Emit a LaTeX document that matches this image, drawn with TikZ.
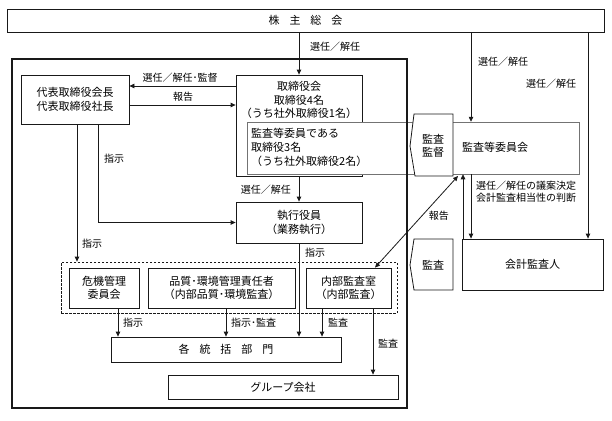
\documentclass[tikz,border=0pt]{standalone}
\usepackage{fontspec}
\setmainfont{Noto Sans CJK JP}
\usetikzlibrary{arrows.meta}
\newcommand\bxfont{\fontsize{11}{13.5}\selectfont}
\newcommand\lbfont{\fontsize{10}{12}\selectfont}
\begin{document}
\begin{tikzpicture}[x=1pt,y=-1pt,
  box/.style={draw=black!90, line width=0.8pt, fill=white, inner sep=0pt, align=center, font=\bxfont},
  lbl/.style={inner sep=0pt, font=\lbfont},
  txt/.style={inner sep=0pt, font=\bxfont, align=center},
  tip/.style={Triangle[length=5pt,width=4.5pt]},
  arr/.style={line width=0.8pt, draw=black!90, -{Triangle[length=5pt,width=4.5pt]}},
  pent/.style={draw=black!90, line width=0.8pt, fill=white},
]
\useasboundingbox (0,0) rectangle (612,420);

% top
\node[box, minimum width=597pt, minimum height=23pt] (kabu) at (305.5,20.5) {株\hspace{0.9em}主\hspace{0.9em}総\hspace{0.9em}会};

% board
\node[box, minimum width=108pt, minimum height=49pt] (daihyo) at (75,99.5) {代表取締役会長\\代表取締役社長};
\node[box, minimum width=126pt, minimum height=101pt] (tor) at (299,125.5) {};
\node[txt] (tortxt) at (299,100) {取締役会\\取締役4名\\（うち社外取締役1名）};
\node[box, draw=black!55, line width=0.5pt, minimum width=332pt, minimum height=52pt] (iinkai) at (413,148) {};
\node[txt, align=left, anchor=west, font=\fontsize{11}{14}\selectfont] (iinkaitxt) at (251,147.5) {監査等委員である\\取締役3名\\（うち社外取締役2名）};
\node[txt] (iinkainame) at (495,147) {監査等委員会};

% outer frame
\draw[line width=1.6pt, draw=black!90] (12,59) rectangle (407,408);

% pentagons
\draw[pent] (414,114) -- (453,114) -- (453,176) -- (415,176) -- (410,146) -- cycle;
\node[txt] (kansa1) at (433,146) {監査\\監督};
\draw[pent] (414,239) -- (453,239) -- (453,290) -- (414,290) -- (410,265) -- cycle;
\node[txt] (kansa2) at (433,265) {監査};

\node[box, minimum width=141pt, minimum height=51pt] (kaikei) at (532.5,264.5) {会計監査人};
\node[box, minimum width=126pt, minimum height=41pt] (shikko) at (299,222.5) {執行役員\\（業務執行）};

% dashed group
\node[draw=black!90, line width=0.8pt, dash pattern=on 2.5pt off 1.5pt, minimum width=336pt, minimum height=51pt, inner sep=0pt] (grp) at (229,287.5) {};
\node[box, minimum width=70pt, minimum height=40pt] (kiki) at (104,288) {危機管理\\委員会};
\node[box, minimum width=147pt, minimum height=40pt] (hinshitsu) at (221.5,288) {品質･環境管理責任者\\（内部品質･環境監査）};
\node[box, minimum width=85pt, minimum height=40pt] (naibu) at (348.5,288) {内部監査室\\（内部監査）};

\node[box, minimum width=230pt, minimum height=25pt] (kaku) at (226,349.5) {各\hspace{0.9em}統\hspace{0.9em}括\hspace{0.9em}部\hspace{0.9em}門};
\node[box, minimum width=230pt, minimum height=24pt] (group) at (283,387) {グループ会社};

% helper coordinates
\coordinate (xa) at (471,0);
\coordinate (xb) at (588,0);
\coordinate (ya) at (0,86);
\coordinate (yb) at (0,105);
\coordinate (xc) at (77,0);
\coordinate (xd) at (98,0);
\coordinate (xe) at (118,0);
\coordinate (xf) at (226,0);
\coordinate (xg) at (322,0);
\coordinate (xh) at (373,0);
\coordinate (xi) at (463,0);
\coordinate (xj) at (375,0);
\coordinate (dtop) at (458,176);

% connectors
\draw[arr] (kabu.south -| tor.north) -- (tor.north);
\node[lbl, anchor=west] (l1) at (310,47) {選任／解任};
\draw[arr] (kabu.south -| xa) -- (iinkai.north -| xa);
\node[lbl, anchor=west] (l2) at (478,62) {選任／解任};
\draw[arr] (kabu.south -| xb) -- (kaikei.north -| xb);
\node[lbl, anchor=west] (l3) at (526,84) {選任／解任};

\draw[arr] (tor.west |- ya) -- (daihyo.east |- ya);
\node[lbl] (l4) at (180,78) {選任／解任･監督};
\draw[arr] (daihyo.east |- yb) -- (tor.west |- yb);
\node[lbl] (l5) at (183,97) {報告};

\draw[arr] (daihyo.south -| xc) -- (grp.north -| xc);
\node[lbl, anchor=west] (l6) at (82,244) {指示};
\draw[arr] (daihyo.south -| xd) |- (shikko.west);
\node[lbl, anchor=west] (l7) at (104,159) {指示};

\draw[arr] (tor.south) -- (shikko.north);
\node[lbl, anchor=east] (l8) at (291,190) {選任／解任};
\draw[arr] (shikko.south) -- (kaku.north -| shikko.south);
\node[lbl, anchor=west] (l9) at (305,253) {指示};

\draw[arr] (kiki.south -| xe) -- (kaku.north -| xe);
\node[lbl, anchor=west] (l10) at (123,323) {指示};
\draw[arr] (hinshitsu.south -| xf) -- (kaku.north -| xf);
\node[lbl, anchor=west] (l11) at (231,323) {指示･監査};
\draw[arr] (naibu.south -| xg) -- (kaku.north -| xg);
\node[lbl, anchor=west] (l12) at (328,323) {監査};
\draw[arr] (naibu.south -| xh) -- (group.north -| xh);
\node[lbl, anchor=west] (l13) at (378,344) {監査};

\draw[arr] (kaikei.north -| xi) -- (iinkai.south -| xi);
\node[lbl, anchor=east] (l14) at (449,216) {報告};
\draw[arr] (iinkai.south -| xa) -- (kaikei.north -| xa);
\node[lbl, anchor=north west, align=left] (l15) at (476,181) {選任／解任の議案決定\\会計監査相当性の判断};

\draw[line width=0.8pt, draw=black!90, {Triangle[length=5pt,width=4.5pt]}-{Triangle[length=5pt,width=4.5pt]}] (naibu.north -| xj) -- (dtop);
\end{tikzpicture}
\end{document}
